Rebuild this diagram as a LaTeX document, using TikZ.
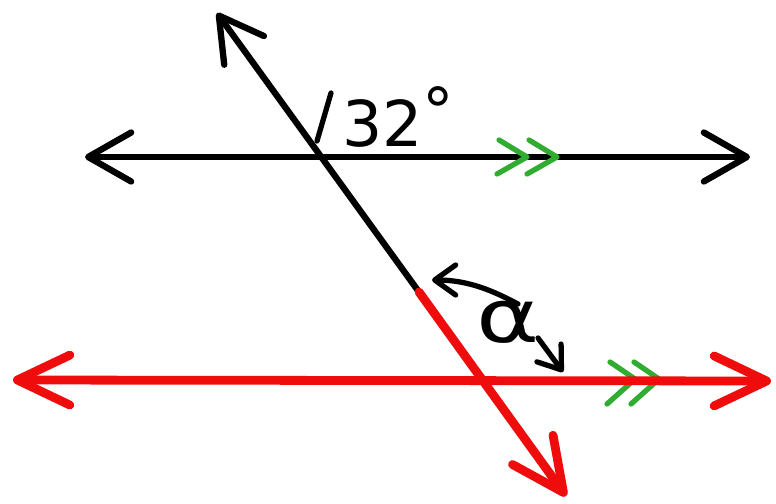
\documentclass[tikz,border=0pt]{standalone}
\usepackage{fontspec}
\setmainfont{DejaVu Sans}
\usetikzlibrary{arrows.meta}
\definecolor{penred}{RGB}{238,12,12}
\definecolor{pengreen}{RGB}{48,172,48}
\begin{document}
\begin{tikzpicture}[
  x=0.02cm, y=-0.02cm,
  blk/.style={line width=3.6pt, black, line cap=round},
  redl/.style={line width=5pt, penred, line cap=round},
  barb/.style={-{Straight Barb[length=0.86cm, width=0.98cm, round]}},
  rbarb/.style={-{Straight Barb[length=1.05cm, width=1.0cm, round]}},
  both/.style={{Straight Barb[length=0.86cm, width=0.98cm, round]}-{Straight Barb[length=0.86cm, width=0.98cm, round]}},
  rboth/.style={{Straight Barb[length=1.05cm, width=1.0cm, round]}-{Straight Barb[length=1.05cm, width=1.0cm, round]}},
  chev/.style={line width=3pt, pengreen, line cap=round, line join=round},
  smallarr/.style={line width=3pt, black, line cap=round,
                   -{Straight Barb[length=0.42cm, width=0.6cm, round]}}
]
\useasboundingbox (0,0) rectangle (776,503);

% the two parallel lines and the transversal
\coordinate (topL) at (85,157);
\coordinate (topR) at (750,157);
\coordinate (botL) at (13,380);
\coordinate (botR) at (771,381);
\coordinate (tTop) at (217,13);
\coordinate (tMid) at (419,292);
\coordinate (tBot) at (566,496);

\draw[blk, both] (topL) -- (topR);

% parallel marks
\foreach \x in {527,557}
  \draw[chev] (\x-28,140) -- (\x,157) -- (\x-30,174);
\foreach \x in {635,659}
  \draw[chev] (\x-25,362) -- (\x,379) -- (\x-28,404);

\draw[redl, rboth] (botL) -- (botR);

\draw[blk, barb] (tMid) -- (tTop);
\draw[redl, rbarb] (tMid) -- (tBot);

% given angle
\draw[blk, line width=3pt] (331,93) -- (317,141);
\node[font=\fontsize{36}{36}\selectfont, anchor=west, inner sep=0pt] (ang) at (342,117) {32\raisebox{0.22em}{°}};

% unknown angle
\node[font=\fontsize{42}{42}\selectfont, inner sep=0pt, xscale=1.3] (alpha) at (508,322) {α};
\draw[smallarr] (518,304) .. controls (495,292) and (470,280) .. (432,280);
\draw[smallarr] (538,338) -- (563,372);

\end{tikzpicture}
\end{document}
